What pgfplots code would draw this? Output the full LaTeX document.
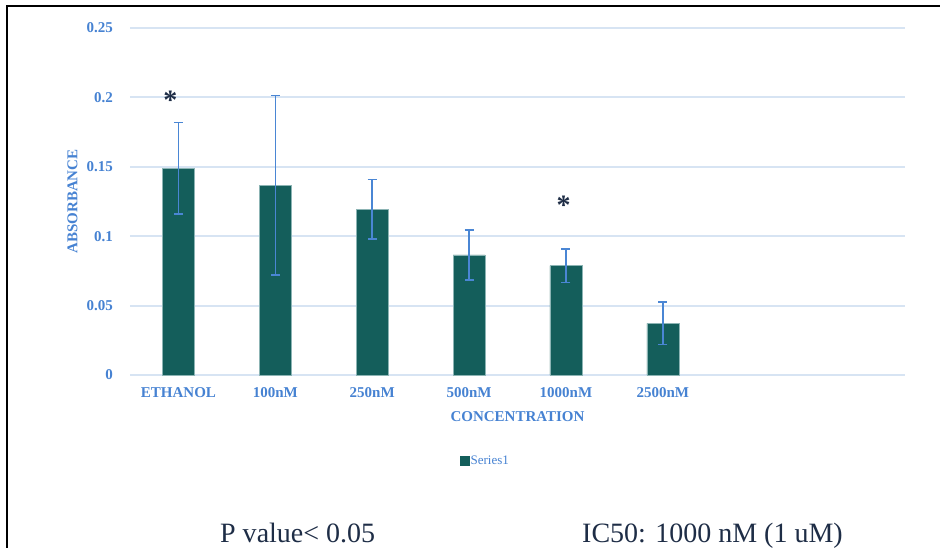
\documentclass[border=0pt]{standalone}
\usepackage{pgfplots}
\pgfplotsset{compat=1.18}
\usepackage{fontspec}
\setmainfont{Liberation Serif}
\definecolor{barfill}{RGB}{20,94,91}
\definecolor{baredge}{RGB}{140,180,180}
\definecolor{tickblue}{RGB}{70,130,210}
\definecolor{errblue}{RGB}{74,134,212}
\definecolor{gridblue}{RGB}{215,228,243}
\definecolor{navy}{RGB}{30,45,70}
\begin{document}
\begin{tikzpicture}
\useasboundingbox (-130bp,-173bp) rectangle (810bp,375bp);
\draw[line width=2bp, black] (-123bp,-175bp) -- (-123bp,369bp) -- (812bp,369bp);
\begin{axis}[
  scale only axis,
  width=775bp, height=347bp,
  ybar, bar width=32bp,
  xmin=-0.5, xmax=7.5, ymin=0, ymax=0.25,
  xtick={0,1,2,3,4,5},
  xticklabels={ETHANOL,100nM,250nM,500nM,1000nM,2500nM},
  ytick={0,0.05,0.1,0.15,0.2,0.25},
  yticklabels={0,0.05,0.1,0.15,0.2,0.25},
  major tick length=0pt,
  axis line style={draw=none},
  ymajorgrids,
  grid style={gridblue, line width=1.8bp},
  tick label style={font=\fontsize{15bp}{18bp}\selectfont\bfseries, text=tickblue, inner sep=0pt},
  yticklabel style={anchor=east, xshift=-17bp},
  xticklabel style={anchor=base, yshift=-22.7bp},
  xlabel={CONCENTRATION},
  ylabel={ABSORBANCE},
  label style={font=\fontsize{15bp}{18bp}\selectfont\bfseries, text=tickblue, inner sep=0pt},
  xlabel style={at={(axis description cs:0.5,-0.1346)}, anchor=base},
  ylabel style={at={(axis description cs:-0.068,0.5)}, anchor=base},
  legend style={at={(axis description cs:0.458,-0.248)}, anchor=center, draw=none, fill=none,
    font=\fontsize{13bp}{15bp}\selectfont, text=tickblue, inner sep=0pt,
    nodes={inner sep=1bp}},
  legend image code/.code={\fill[barfill] (0bp,-4.5bp) rectangle (9bp,4.5bp);},
  clip=false,
]
\addplot[fill=barfill, draw=baredge, line width=0.6bp,
  error bars/.cd, y dir=both, y explicit,
  error mark=|,
  error bar style={line width=1.5bp, errblue},
  error mark options={line width=1.5bp, errblue, mark size=4.5bp}]
  table[x=x, y=y, y error=e] {
x y e
0 0.1490 0.0330
1 0.1368 0.0646
2 0.1194 0.0215
3 0.0865 0.0180
4 0.0788 0.0121
5 0.0372 0.0154
};
\addlegendentry{Series1}
\node[anchor=base, text=navy, font=\fontsize{28bp}{30bp}\selectfont\bfseries, inner sep=0pt] at (axis cs:-0.083,0.1911) {*};
\node[anchor=base, text=navy, font=\fontsize{28bp}{30bp}\selectfont\bfseries, inner sep=0pt] at (axis cs:3.976,0.1155) {*};
\end{axis}
\node[anchor=base west, text=navy, font=\fontsize{28bp}{30bp}\selectfont, inner sep=0pt] at (90bp,-167.7bp) {P value< 0.05};
\node[anchor=base west, text=navy, font=\fontsize{28bp}{30bp}\selectfont, inner sep=0pt] at (452bp,-167.7bp) {IC50: 1000 nM (1 uM)};
\end{tikzpicture}
\end{document}
